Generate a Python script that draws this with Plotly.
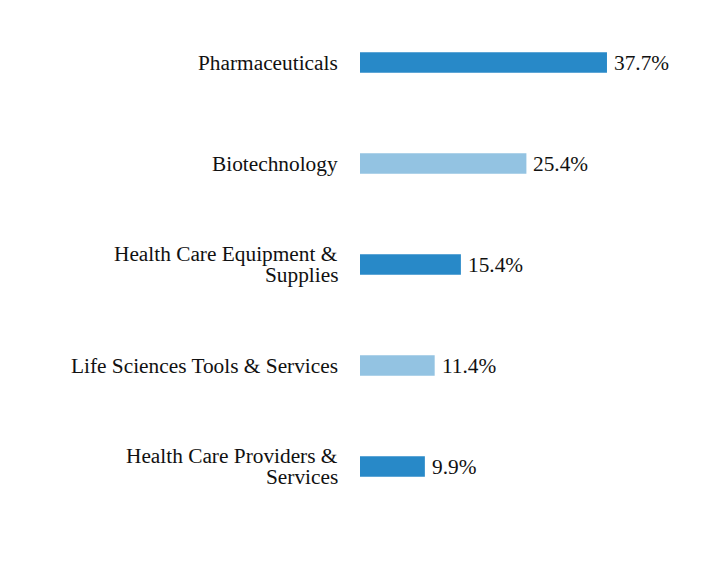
import plotly.graph_objects as go

categories = ["Pharmaceuticals", "Biotechnology", "Health Care Equipment &<br>Supplies",
              "Life Sciences Tools & Services", "Health Care Providers &<br>Services"]
values = [37.7, 25.4, 15.4, 11.4, 9.9]
value_labels = ["37.7%", "25.4%", "15.4%", "11.4%", "9.9%"]
colors = ["#2889c8", "#93c3e2", "#2889c8", "#93c3e2", "#2889c8"]

font = dict(family="Liberation Serif", size=21.33, color="#111111")

fig = go.Figure(go.Bar(
    x=values, y=list(range(len(categories))), orientation="h",
    marker=dict(color=colors, line=dict(width=0)),
    width=0.205, hoverinfo="skip",
))

annotations = []
for i, (cat, v, lab) in enumerate(zip(categories, values, value_labels)):
    annotations.append(dict(x=v, y=i, xref="x", yref="y", text=lab, showarrow=False,
                            xanchor="left", yanchor="middle", xshift=5, font=font))
    lines = cat.split("<br>")
    n = len(lines)
    for j, line in enumerate(lines):
        off = ((n - 1) / 2 - j) * 21.5
        annotations.append(dict(x=0, y=i, xref="x", yref="y", text=line, showarrow=False,
                                xanchor="right", yanchor="middle", xshift=-20, yshift=off,
                                font=font))

fig.update_layout(
    width=720, height=576,
    margin=dict(l=352, r=28, t=4, b=67),
    paper_bgcolor="white", plot_bgcolor="white",
    showlegend=False,
    font=font,
    xaxis=dict(range=[0, 51.9], visible=False),
    yaxis=dict(range=[4.5, -0.5], visible=False),
    annotations=annotations,
)

fig.write_html("out.html")
